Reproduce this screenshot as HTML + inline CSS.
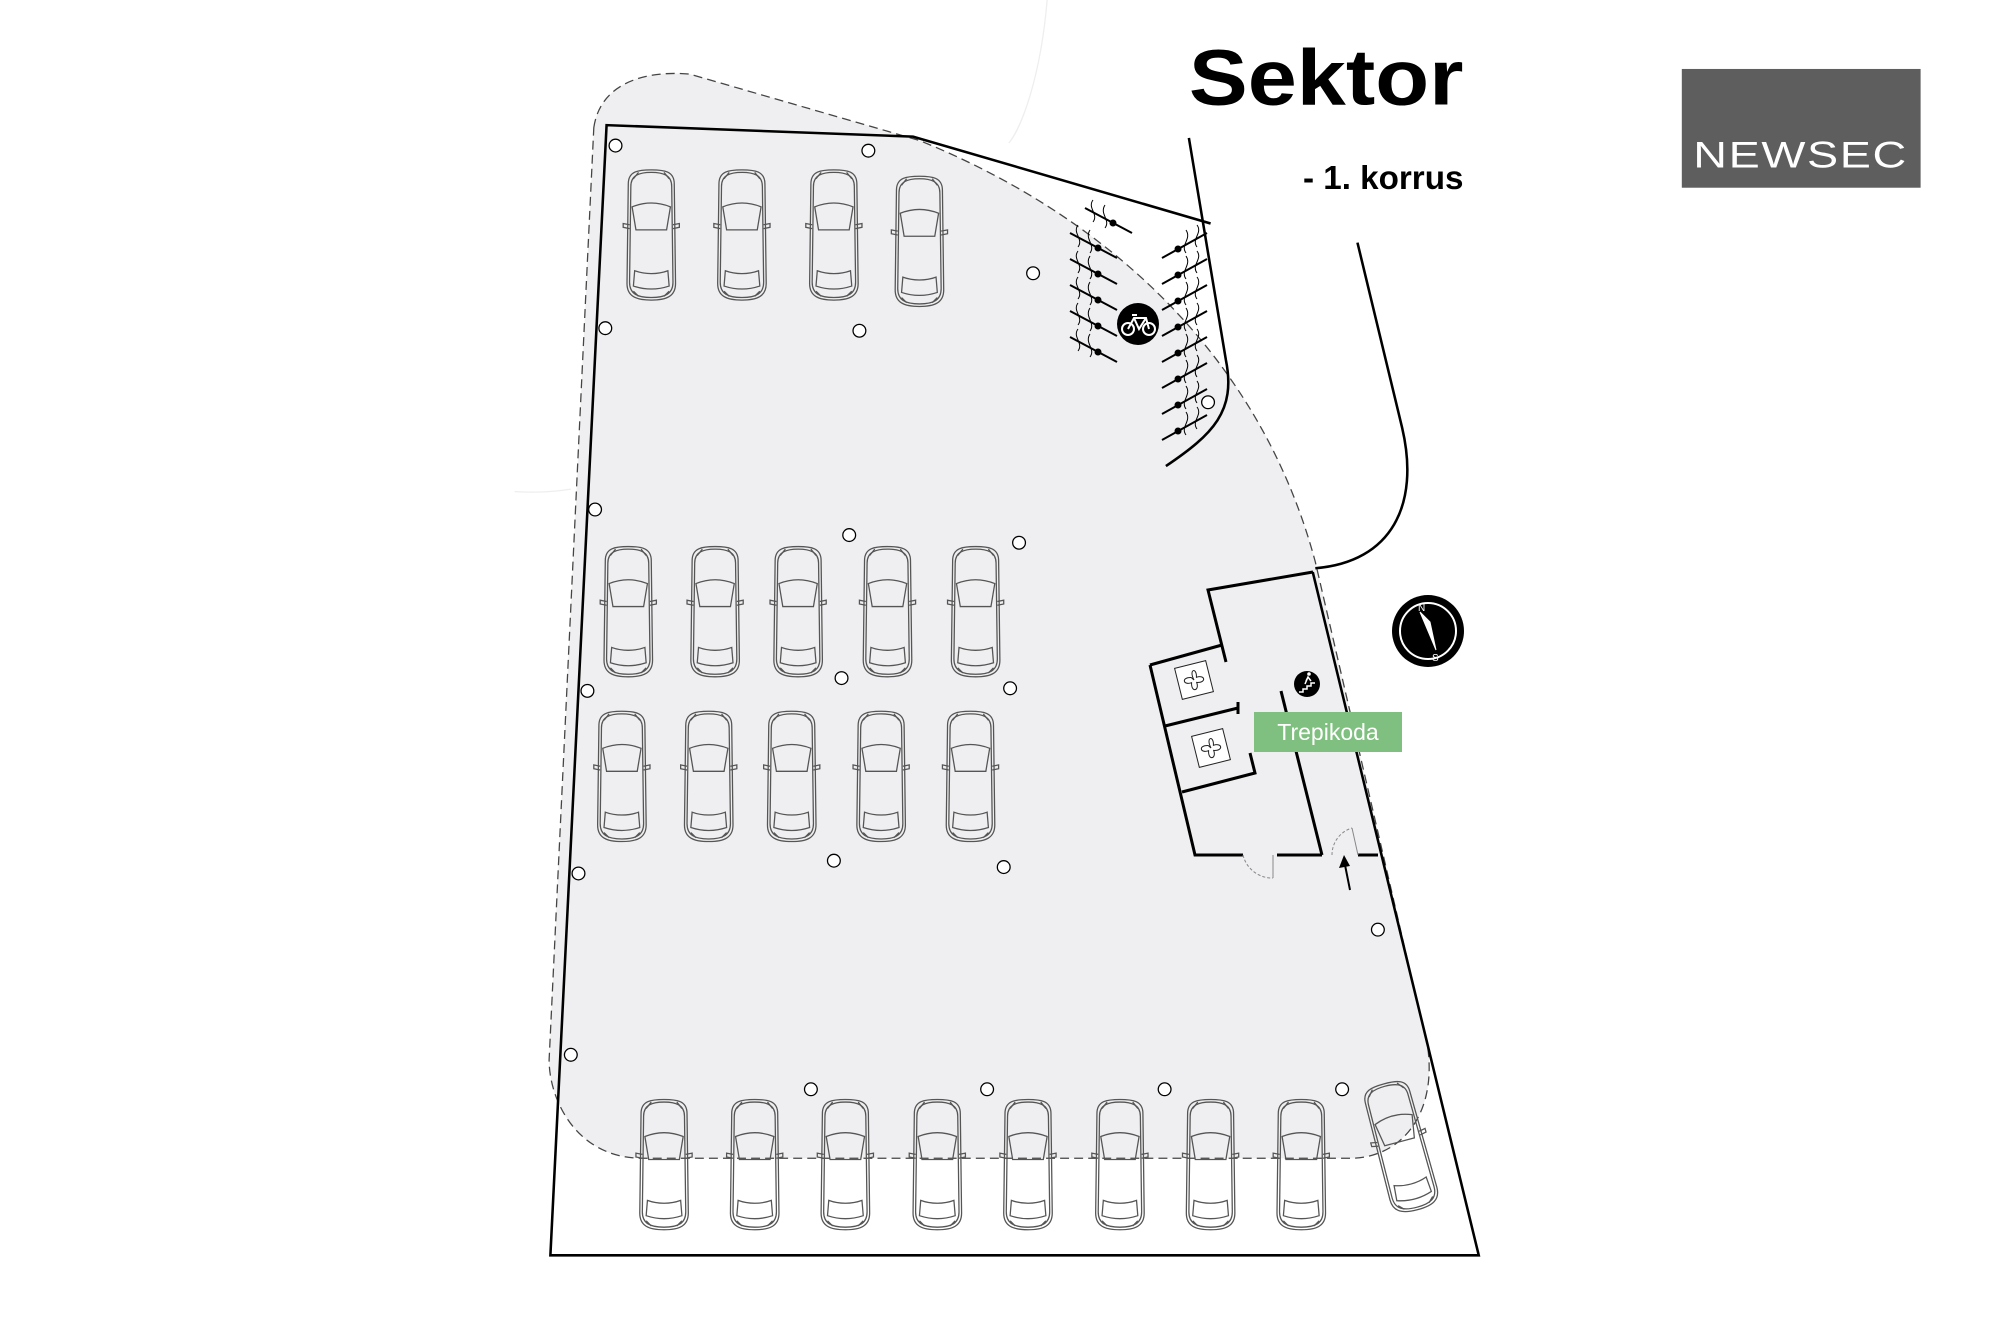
<!DOCTYPE html>
<html><head><meta charset="utf-8"><style>
html,body{margin:0;padding:0;background:#fff;}
svg{display:block;}
</style></head><body>
<svg width="2000" height="1334" viewBox="0 0 2000 1334" xmlns="http://www.w3.org/2000/svg">
<defs>
<g id="car" fill="none" stroke="#555" stroke-width="1">
  <path d="M-18,-40 C-18,-50 -10,-51 0,-51 C10,-51 18,-50 18,-40 L19,38 C19,48 12,51 0,51 C-12,51 -19,48 -19,38 Z"/>
  <path d="M-16,-38 C-16,-47 -9,-49 0,-49 C9,-49 16,-47 16,-38 L17,37 C17,46 11,49 0,49 C-11,49 -17,46 -17,37 Z"/>
  <path d="M-15,-22 C-5,-26 5,-26 15,-22 L12,-4 L-12,-4 Z"/>
  <path d="M-13,28 C-5,31 5,31 13,28 L14,40 C5,43 -5,43 -14,40 Z"/>
  <path d="M-17,-8 L-22,-9 L-22,-6 L-17,-5 M17,-8 L22,-9 L22,-6 L17,-5"/>
  <path d="M-14,-44 L-10,-49 M14,-44 L10,-49 M-14,44 L-10,48 M14,44 L10,48"/>
</g>
<g id="col"><circle r="5" fill="#fff" stroke="#000" stroke-width="1"/></g>
<g id="bikeL" stroke="#000" fill="none"><line x1="0" y1="0" x2="47" y2="25" stroke-width="2"/><path d="M8,-8 C2,0 14,6 8,14 M20,-3 C14,6 26,12 20,20" stroke-width="1"/><circle cx="28" cy="15" r="3" fill="#000"/></g>
<g id="bikeR" stroke="#000" fill="none"><line x1="0" y1="25" x2="45" y2="0" stroke-width="2"/><path d="M35,-8 C41,0 29,6 35,14 M24,-3 C30,6 18,12 24,20" stroke-width="1"/><circle cx="16" cy="16" r="3" fill="#000"/></g>
</defs>

<g transform="scale(1.277)">
  <path d="M820,0 C815,60 800,100 790,112" stroke="#eee" fill="none" stroke-width="1"/>
  <path d="M403,385 C420,386 435,385 447,383" stroke="#eee" fill="none" stroke-width="1"/>
  <path d="M465,100 C470,65 505,55 540,58 L720,110 C880,175 990,290 1030,440 L1118,820 C1125,870 1100,905 1060,907 L500,907 C450,905 430,860 430,830 Z" fill="#efeff1" stroke="#444" stroke-width="1" stroke-dasharray="7,4"/>
  <path d="M948,175 L715,107 L475,98 L431,983 L1158,983 L1028,448" fill="none" stroke="#000" stroke-width="2"/>
  <path d="M931,108 L960,282 C968,322 950,340 913,365" fill="none" stroke="#000" stroke-width="2"/>
  <path d="M1063,190 L1098,335 C1112,395 1090,440 1030,445" fill="none" stroke="#000" stroke-width="2"/>

  <use href="#car" x="510" y="184"/><use href="#car" x="581" y="184"/><use href="#car" x="653" y="184"/><use href="#car" x="720" y="189"/>
  <use href="#car" x="492" y="479"/><use href="#car" x="560" y="479"/><use href="#car" x="625" y="479"/><use href="#car" x="695" y="479"/><use href="#car" x="764" y="479"/>
  <use href="#car" x="487" y="608"/><use href="#car" x="555" y="608"/><use href="#car" x="620" y="608"/><use href="#car" x="690" y="608"/><use href="#car" x="760" y="608"/>
  <use href="#car" x="520" y="912"/><use href="#car" x="591" y="912"/><use href="#car" x="662" y="912"/><use href="#car" x="734" y="912"/><use href="#car" x="805" y="912"/><use href="#car" x="877" y="912"/><use href="#car" x="948" y="912"/><use href="#car" x="1019" y="912"/>
  <use href="#car" transform="translate(1097,898) rotate(-15)"/>

  <use href="#col" x="482" y="114"/><use href="#col" x="680" y="118"/><use href="#col" x="809" y="214"/><use href="#col" x="474" y="257"/><use href="#col" x="673" y="259"/><use href="#col" x="946" y="315"/><use href="#col" x="466" y="399"/><use href="#col" x="665" y="419"/><use href="#col" x="798" y="425"/><use href="#col" x="460" y="541"/><use href="#col" x="659" y="531"/><use href="#col" x="791" y="539"/><use href="#col" x="453" y="684"/><use href="#col" x="653" y="674"/><use href="#col" x="786" y="679"/><use href="#col" x="1079" y="728"/><use href="#col" x="447" y="826"/><use href="#col" x="635" y="853"/><use href="#col" x="773" y="853"/><use href="#col" x="912" y="853"/><use href="#col" x="1051" y="853"/>

  <text x="1146" y="82" text-anchor="end" font-family="Liberation Sans, sans-serif" font-weight="bold" font-size="62" fill="#000" textLength="215" lengthAdjust="spacingAndGlyphs">Sektor</text>
  <text x="1146" y="148" text-anchor="end" font-family="Liberation Sans, sans-serif" font-weight="bold" font-size="26" fill="#000">- 1. korrus</text>
  <rect x="1317" y="54" width="187" height="93" fill="#5e5e5e"/>
  <text x="1410" y="131" text-anchor="middle" font-family="Liberation Sans, sans-serif" font-size="29" fill="#fff" letter-spacing="1" textLength="168" lengthAdjust="spacingAndGlyphs">NEWSEC</text>
</g>

<g>
  <use href="#bikeL" x="1085" y="208"/>
  <use href="#bikeL" x="1070" y="233"/><use href="#bikeL" x="1070" y="259"/><use href="#bikeL" x="1070" y="285"/><use href="#bikeL" x="1070" y="311"/><use href="#bikeL" x="1070" y="337"/>
  <use href="#bikeR" x="1162" y="233"/><use href="#bikeR" x="1162" y="259"/><use href="#bikeR" x="1162" y="285"/><use href="#bikeR" x="1162" y="311"/><use href="#bikeR" x="1162" y="337"/><use href="#bikeR" x="1162" y="363"/><use href="#bikeR" x="1162" y="389"/><use href="#bikeR" x="1162" y="415"/>
  <circle cx="1138" cy="324" r="21" fill="#000"/>
  <g stroke="#fff" stroke-width="2" fill="none"><circle cx="1128" cy="329" r="6"/><circle cx="1149" cy="329" r="6"/><path d="M1128,329 L1134,318 L1146,318 L1149,329 M1134,318 L1139,329 L1146,318 M1132,315 L1137,315"/></g>
</g>

<g stroke="#000" stroke-width="3" fill="none">
  <path d="M1313,572 L1208,590 L1226,662"/>
  <path d="M1150,665 L1222,645"/>
  <path d="M1150,665 L1195,855 L1243,855"/>
  <path d="M1277,855 L1322,855"/>
  <path d="M1358,855 L1378,855"/>
  <path d="M1165,726 L1238,708 M1238,702 L1238,714"/>
  <path d="M1182,792 L1255,773 L1250,753"/>
  <path d="M1281,691 L1322,855"/>
</g>
<g stroke="#888" stroke-width="1" fill="none">
  <path d="M1243,855 A30,30 0 0 0 1273,878" stroke-dasharray="3,2"/>
  <line x1="1273" y1="855" x2="1273" y2="878"/>
  <path d="M1332,855 A28,28 0 0 1 1352,828" stroke-dasharray="3,2"/>
  <line x1="1352" y1="828" x2="1358" y2="855"/>
</g>
<line x1="1350" y1="890" x2="1345" y2="865" stroke="#000" stroke-width="2"/>
<path d="M1344,855 L1339,868 L1350,866 Z" fill="#000"/>
<g transform="translate(1194,680) rotate(-14)" stroke="#222" fill="#fff" stroke-width="1">
  <rect x="-16" y="-16" width="32" height="32"/>
  <path d="M0,0 C-3,-12 6,-12 3,-2 C12,-3 12,6 2,3 C3,12 -6,12 -3,2 C-12,3 -12,-6 -2,-3 Z" fill="none"/>
</g>
<g transform="translate(1211,748) rotate(-14)" stroke="#222" fill="#fff" stroke-width="1">
  <rect x="-16" y="-16" width="32" height="32"/>
  <path d="M0,0 C-3,-12 6,-12 3,-2 C12,-3 12,6 2,3 C3,12 -6,12 -3,2 C-12,3 -12,-6 -2,-3 Z" fill="none"/>
</g>
<circle cx="1307" cy="684" r="13" fill="#000"/>
<path d="M1299,692 L1303,692 L1303,689 L1307,689 L1307,686 L1311,686 L1311,683 L1315,683" stroke="#fff" stroke-width="1.5" fill="none"/>
<path d="M1305,684 L1308,677 L1311,681 M1308,677 L1306,681" stroke="#fff" stroke-width="1.5" fill="none"/><circle cx="1309" cy="674" r="1.8" fill="#fff"/>
<rect x="1254" y="712" width="148" height="40" fill="#7fbf7f"/>
<text x="1328" y="740" text-anchor="middle" font-family="Liberation Sans, sans-serif" font-size="23" fill="#fff">Trepikoda</text>
<circle cx="1428" cy="631" r="36" fill="#000"/>
<circle cx="1428" cy="631" r="28" fill="none" stroke="#fff" stroke-width="2"/>
<path d="M1420,612 L1436,650 L1430,622 Z" fill="#fff" stroke="#fff" stroke-width="1"/>
<text x="1418" y="611" font-family="Liberation Sans, sans-serif" font-size="10" fill="#fff">N</text>
<text x="1432" y="661" font-family="Liberation Sans, sans-serif" font-size="10" fill="#fff">S</text>
</svg>
</body></html>
